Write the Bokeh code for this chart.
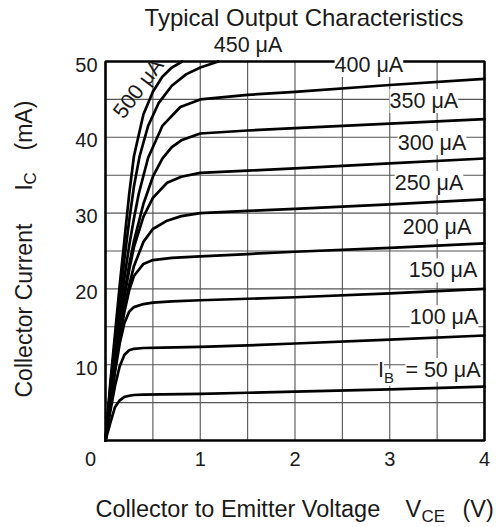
from bokeh.plotting import figure
from bokeh.models import Label, Range1d
from bokeh.core.properties import value
from bokeh.embed import file_html
from bokeh.resources import INLINE

FONT = "Liberation Sans"
INK = "#1a1a1a"

# ---------------- data ----------------
x_min, x_max = 0, 4        # V_CE (V)
y_min, y_max = 0, 50       # I_C (mA)
x_ticks = [1, 2, 3, 4]
y_ticks = [10, 20, 30, 40, 50]
x_grid = [0.5, 1, 1.5, 2, 2.5, 3, 3.5]
y_grid = [5, 10, 15, 20, 25, 30, 35, 40, 45]

vce_50 = [0, 0.05, 0.1, 0.15, 0.2, 0.25, 0.3, 0.4, 0.6, 1.0, 1.5, 2.0, 3.0, 4.0]
ic_50 = [0, 2.3, 4.4, 5.3, 5.75, 5.9, 6.0, 6.05, 6.08, 6.15, 6.3, 6.45, 6.75, 7.1]

vce_100 = [0, 0.05, 0.1, 0.15, 0.2, 0.25, 0.3, 0.4, 0.6, 1.0, 1.5, 2.0, 3.0, 4.0]
ic_100 = [0, 3.8, 7.2, 9.8, 11.3, 11.9, 12.1, 12.2, 12.25, 12.35, 12.55, 12.8, 13.3, 13.85]

vce_150 = [0, 0.05, 0.1, 0.15, 0.2, 0.25, 0.3, 0.4, 0.5, 0.7, 1.0, 1.5, 2.0, 3.0, 4.0]
ic_150 = [0, 4.6, 9.0, 12.8, 15.5, 17.0, 17.6, 18.0, 18.2, 18.35, 18.5, 18.7, 18.9, 19.4, 20.0]

vce_200 = [0, 0.05, 0.1, 0.15, 0.2, 0.25, 0.3, 0.4, 0.5, 0.7, 1.0, 1.5, 2.0, 3.0, 4.0]
ic_200 = [0, 5.0, 9.5, 13.5, 17.0, 19.8, 21.7, 23.3, 23.8, 24.1, 24.3, 24.6, 24.9, 25.4, 26.0]

vce_250 = [0, 0.05, 0.1, 0.15, 0.2, 0.25, 0.3, 0.4, 0.5, 0.65, 0.8, 1.0, 1.5, 2.0, 3.0, 4.0]
ic_250 = [0, 5.2, 10.0, 14.0, 17.5, 20.5, 23.0, 26.2, 27.9, 29.0, 29.6, 30.0, 30.3, 30.55, 31.15, 31.8]

vce_300 = [0, 0.05, 0.1, 0.15, 0.2, 0.25, 0.3, 0.4, 0.5, 0.65, 0.8, 1.0, 1.5, 2.0, 3.0, 4.0]
ic_300 = [0, 5.5, 10.5, 15.0, 19.0, 22.5, 25.5, 29.5, 32.0, 34.0, 34.8, 35.3, 35.6, 35.9, 36.55, 37.2]

vce_350 = [0, 0.05, 0.1, 0.15, 0.2, 0.25, 0.3, 0.4, 0.5, 0.6, 0.7, 0.8, 1.0, 1.5, 2.0, 3.0, 4.0]
ic_350 = [0, 6.0, 11.0, 15.5, 19.5, 23.2, 26.3, 31.2, 34.8, 37.2, 38.7, 39.6, 40.5, 40.9, 41.2, 41.8, 42.4]

vce_400 = [0, 0.05, 0.1, 0.15, 0.2, 0.25, 0.3, 0.35, 0.45, 0.6, 0.79, 1.0, 1.5, 2.0, 3.0, 4.0]
ic_400 = [0, 6.5, 12.0, 17.0, 21.5, 25.7, 29.3, 32.5, 37.3, 41.5, 44.0, 45.0, 45.6, 46.0, 46.9, 47.7]

vce_450 = [0, 0.05, 0.1, 0.15, 0.2, 0.25, 0.3, 0.36, 0.45, 0.56, 0.7, 0.85, 1.0, 1.19]
ic_450 = [0, 7.0, 13.0, 18.5, 24.0, 29.0, 33.5, 37.5, 41.5, 44.5, 46.8, 48.3, 49.2, 50.0]

vce_500 = [0, 0.05, 0.1, 0.15, 0.2, 0.25, 0.3, 0.4, 0.5, 0.6, 0.7, 0.81]
ic_500 = [0, 7.5, 14.0, 20.5, 26.5, 32.5, 37.5, 43.0, 46.0, 48.0, 49.2, 50.0]

curves = [
    (vce_50, ic_50), (vce_100, ic_100), (vce_150, ic_150), (vce_200, ic_200),
    (vce_250, ic_250), (vce_300, ic_300), (vce_350, ic_350), (vce_400, ic_400),
    (vce_450, ic_450), (vce_500, ic_500),
]

# curve labels inside the plot area (data coordinates, text baseline)
curve_labels = ["400 μA", "350 μA", "300 μA", "250 μA", "200 μA", "150 μA", "100 μA"]
curve_label_x = [2.78, 3.36, 3.446, 3.414, 3.499, 3.562, 3.573]
curve_label_y = [48.55, 43.8, 38.26, 32.98, 27.18, 21.44, 15.30]

# ---------------- layout: plot area placed inside the canvas ----------------
W, H = 497, 527
M_LEFT, M_RIGHT, M_TOP, M_BOTTOM = 105, 13, 61, 87
kx = (W - M_LEFT - M_RIGHT) / (x_max - x_min)
ky = (H - M_TOP - M_BOTTOM) / (y_max - y_min)
BASE_SHIFT = 0.35   # em; raise the "alphabetic" anchor to the real baseline

p = figure(width=W, height=H,
           x_range=Range1d(x_min - M_LEFT / kx, x_max + M_RIGHT / kx),
           y_range=Range1d(y_min - M_BOTTOM / ky, y_max + M_TOP / ky),
           x_axis_type=None, y_axis_type=None, output_backend="svg",
           toolbar_location=None, min_border=0)
p.background_fill_color = "white"
p.border_fill_color = "white"
p.outline_line_color = None

# grid
p.segment(x0=x_grid, y0=[y_min] * len(x_grid), x1=x_grid, y1=[y_max] * len(x_grid),
          line_color="#555555", line_width=1.1)
p.segment(x0=[x_min] * len(y_grid), y0=y_grid, x1=[x_max] * len(y_grid), y1=y_grid,
          line_color="#555555", line_width=1.1)

# frame
p.quad(left=[x_min], right=[x_max], bottom=[y_min], top=[y_max],
       fill_color=None, line_color="black", line_width=2.6)

# tick labels
p.text(x=x_ticks, y=[y_min] * len(x_ticks), text=[str(t) for t in x_ticks],
       text_font=value(FONT), text_font_size=value("20px"), text_color=INK,
       text_align="center", text_baseline="alphabetic", y_offset=18)
p.text(x=[x_min] * len(y_ticks), y=y_ticks, text=[str(t) for t in y_ticks],
       text_font=value(FONT), text_font_size=value("20px"), text_color=INK,
       text_align="right", text_baseline="alphabetic", x_offset=-8, y_offset=3)
p.text(x=[x_min], y=[y_min], text=["0"],
       text_font=value(FONT), text_font_size=value("20px"), text_color=INK,
       text_align="center", text_baseline="alphabetic", x_offset=-15, y_offset=18)

# characteristic curves
for vx, iy in curves:
    p.line(vx, iy, line_color="black", line_width=2.7, line_join="round", line_cap="round")


def lab(x, y, text, size=21.5, align="center", angle=0, bg=False,
        baseline="alphabetic", units="data"):
    if baseline == "alphabetic":
        s = BASE_SHIFT * size
        if angle == 90:
            x -= s
        elif units == "canvas":
            y -= s
        else:
            y += s / ky
    kw = dict(x=x, y=y, text=text, text_font=FONT, text_font_size=f"{size}px",
              text_color=INK, text_align=align, text_baseline=baseline,
              angle=angle, angle_units="deg", x_units=units, y_units=units)
    if bg:
        kw.update(background_fill_color="white", background_fill_alpha=1.0)
    p.add_layout(Label(**kw))


for t, x, y in zip(curve_labels, curve_label_x, curve_label_y):
    lab(x, y, t, bg=True)

# I_B = 50 uA
lab(3.958, 8.31, "= 50 μA", align="right", bg=True)
lab(2.875, 8.31, "I", align="left", bg=True)
lab(2.94, 7.65, "B", size=15, align="left", bg=True)

# texts around the plot area (canvas pixel coordinates, origin top-left)
lab(247.5, 52, "450 μA", units="canvas")
lab(138, 88, "500 μA", angle=53, baseline="middle", units="canvas")
lab(303.5, 25, "Typical Output Characteristics", size=24, units="canvas")

lab(95, 517, "Collector to Emitter Voltage", size=23.5, align="left", units="canvas")
lab(405, 517, "V", size=23.5, align="left", units="canvas")
lab(421, 522, "CE", size=17, align="left", units="canvas")
lab(462, 517, "(V)", size=23.5, align="left", units="canvas")

lab(32, 397, "Collector Current", size=23, align="left", angle=90, units="canvas")
lab(32, 190, "I", size=23, align="left", angle=90, units="canvas")
lab(36, 184, "C", size=17, align="left", angle=90, units="canvas")
lab(32, 150, "(mA)", size=23, align="left", angle=90, units="canvas")

open("out.html", "w").write(file_html(p, INLINE))
